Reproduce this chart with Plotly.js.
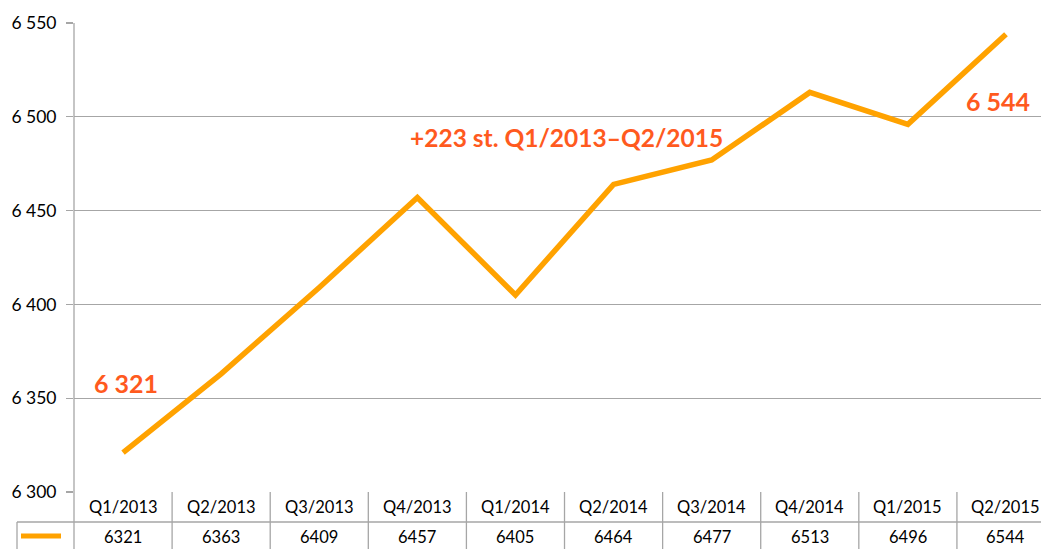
<!DOCTYPE html>
<html>
<head>
<meta charset="utf-8">
<script src="https://cdn.plot.ly/plotly-3.0.1.min.js"></script>
<style>html,body{margin:0;padding:0;background:#fff;}#chart{width:1041px;height:549px;}</style>
</head>
<body>
<div id="chart"></div>
<script>
const categories = ["Q1/2013","Q2/2013","Q3/2013","Q4/2013","Q1/2014","Q2/2014","Q3/2014","Q4/2014","Q1/2015","Q2/2015"];
const values = [6321,6363,6409,6457,6405,6464,6477,6513,6496,6544];
const yTickVals = [6300,6350,6400,6450,6500,6550];
const yTickText = ["6 300","6 350","6 400","6 450","6 500","6 550"];
const labelStart = "6 321";
const labelEnd = "6 544";
const labelChange = "+223 st. Q1/2013\u2013Q2/2015";

const W = 1041, H = 549;
const mL = 74, mT = 23, mB = 57, mR = 0;
const plotW = W - mL - mR, plotH = H - mT - mB;
const py = p => (H - mB - p) / plotH;      // pixel y -> paper y
const px = p => (p - mL) / plotW;          // pixel x -> paper x
const gridCol = '#A6A6A6';
const lineCol = '#FFA200';
const accent = '#FF5A1E';
const font = 'Lato, "Liberation Sans", sans-serif';

const shapes = [];
const annotations = [];
shapes.push({type:'line', xref:'paper', yref:'paper', x0:0, x1:0, y0:1, y1:py(H), line:{color:gridCol, width:1.3}});
shapes.push({type:'line', xref:'paper', yref:'paper', x0:px(17), x1:1, y0:py(522), y1:py(522), line:{color:gridCol, width:1.3}});
shapes.push({type:'line', xref:'paper', yref:'paper', x0:px(17), x1:px(17), y0:py(522), y1:py(H), line:{color:gridCol, width:1.3}});
for (let i = 0; i < categories.length; i++) {
  shapes.push({type:'line', xref:'x', yref:'paper', x0:i+0.5, x1:i+0.5, y0:0, y1:py(H), line:{color:gridCol, width:1.3}});
  annotations.push({xref:'x', yref:'paper', x:i, y:py(507), text:categories[i], showarrow:false, xanchor:'center', yanchor:'middle', font:{family:font, size:16.5, color:'#000'}});
  annotations.push({xref:'x', yref:'paper', x:i, y:py(537), text:String(values[i]), showarrow:false, xanchor:'center', yanchor:'middle', font:{family:font, size:16.5, color:'#000'}});
}
shapes.push({type:'line', xref:'paper', yref:'paper', x0:px(21), x1:px(61), y0:py(536), y1:py(536), line:{color:lineCol, width:5}});

annotations.push({xref:'x', yref:'y', x:0.03, y:6358, text:'<b>'+labelStart+'</b>', showarrow:false, xanchor:'center', yanchor:'middle', font:{family:font, size:25, color:accent}});
annotations.push({xref:'x', yref:'y', x:4.52, y:6489.2, text:'<b>'+labelChange+'</b>', showarrow:false, xanchor:'center', yanchor:'middle', font:{family:font, size:24.5, color:accent}});
annotations.push({xref:'x', yref:'y', x:8.92, y:6508.4, text:'<b>'+labelEnd+'</b>', showarrow:false, xanchor:'center', yanchor:'middle', font:{family:font, size:25, color:accent}});

const trace = {
  x: categories.map((c,i)=>i), y: values, type:'scatter', mode:'lines',
  line:{color:lineCol, width:5.5}, hoverinfo:'skip'
};

const layout = {
  width:W, height:H, margin:{l:mL, r:mR, t:mT, b:mB, pad:0},
  paper_bgcolor:'#fff', plot_bgcolor:'#fff', showlegend:false,
  font:{family:font, size:17, color:'#000'},
  xaxis:{range:[-0.5, 9.357], showgrid:false, zeroline:false, showticklabels:false, ticks:'', showline:false, fixedrange:true},
  yaxis:{range:[6300,6550], tickvals:yTickVals, ticktext:yTickText, showgrid:true, gridcolor:gridCol, gridwidth:1.3,
         zeroline:false, showline:false, ticks:'outside', ticklen:7, tickcolor:gridCol, tickwidth:1.3,
         ticklabelstandoff:6, tickfont:{family:font, size:17.5, color:'#000'}, fixedrange:true},
  shapes: shapes, annotations: annotations
};
Plotly.newPlot('chart', [trace], layout, {displayModeBar:false, staticPlot:true});
</script>
</body>
</html>
